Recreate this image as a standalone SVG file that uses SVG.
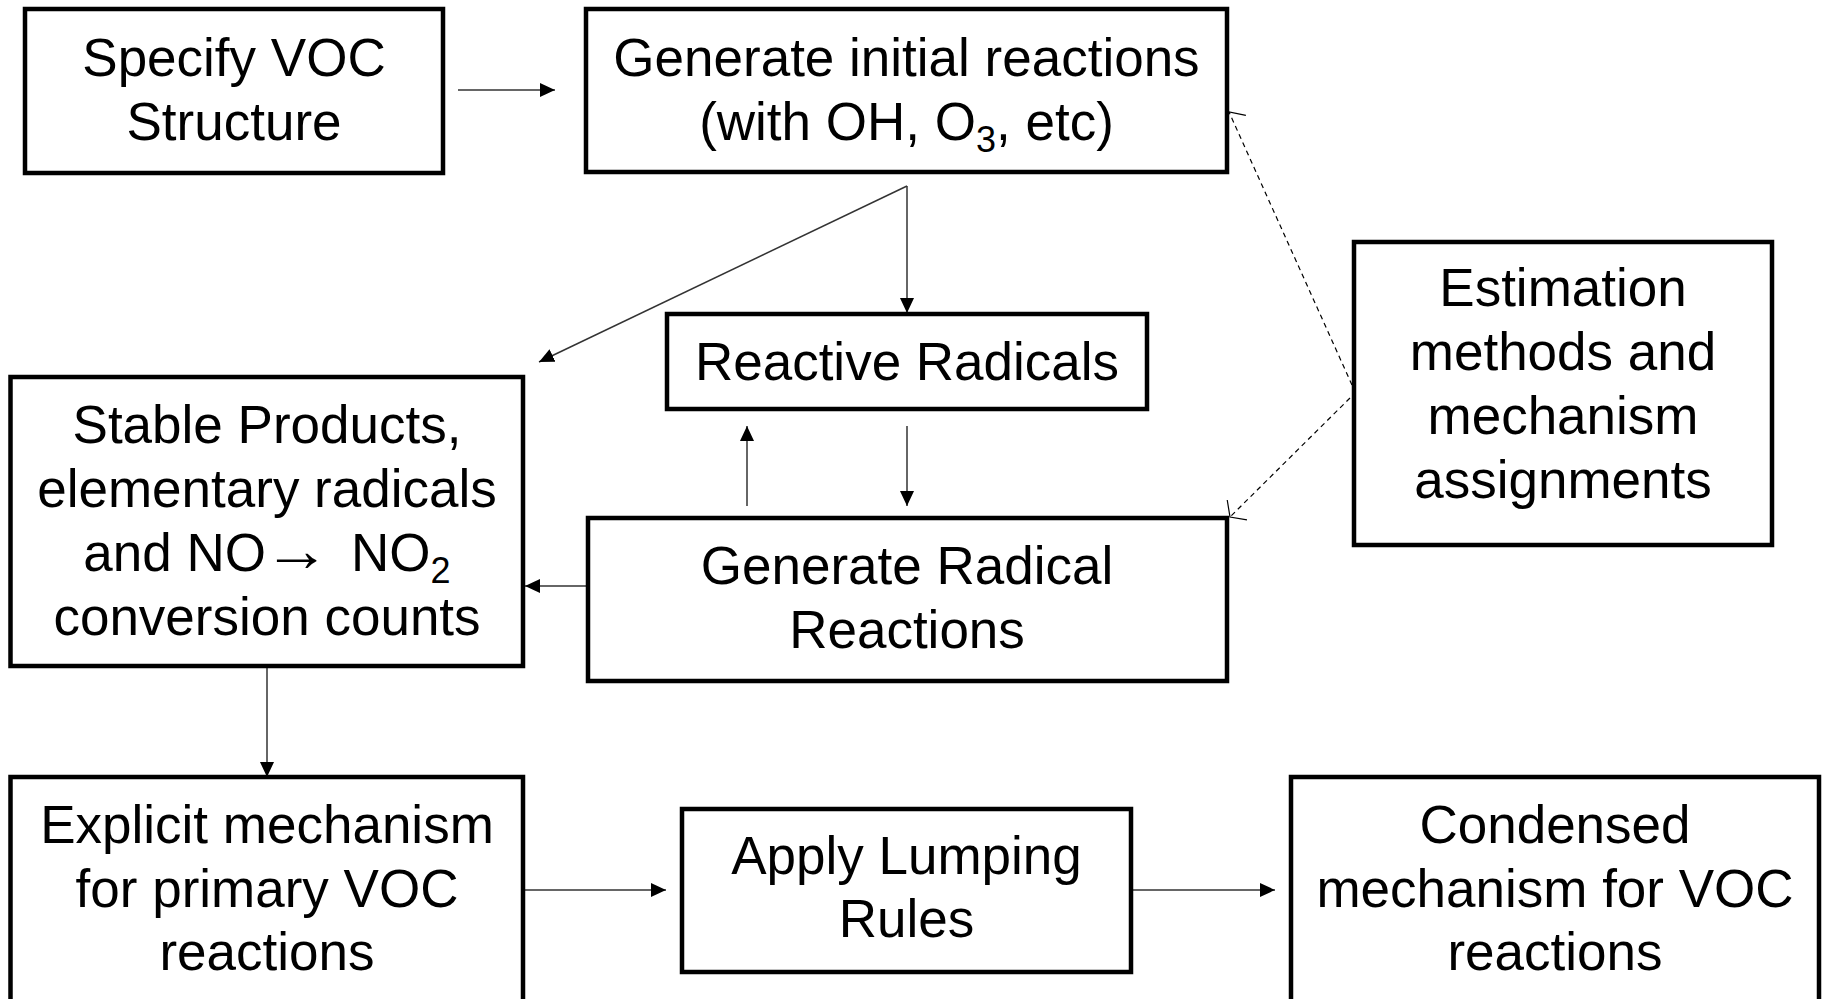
<svg xmlns="http://www.w3.org/2000/svg" width="1823" height="999" viewBox="0 0 1823 999">
<style>
  .box { fill: #fff; stroke: #000; stroke-width: 4.5; }
  .lbl { font-family: "Liberation Sans", Arial, sans-serif; font-size: 53px; fill: #000; text-anchor: middle; }
  .sub { font-size: 36px; }
  .conn { fill: none; stroke: #333; stroke-width: 1.5; }
  .dash { fill: none; stroke: #000; stroke-width: 1.2; stroke-dasharray: 5 4; }
</style>
<defs>
  <marker id="ah" markerUnits="userSpaceOnUse" markerWidth="16" markerHeight="16" refX="15" refY="7" orient="auto" viewBox="0 0 16 14">
    <path d="M0,0 L15,7 L0,14 z" fill="#000"/>
  </marker>
  <marker id="oh" markerUnits="userSpaceOnUse" markerWidth="24" markerHeight="32" refX="12" refY="15" orient="auto" viewBox="0 0 24 30">
    <path d="M2,1 L12,15 L2,29" fill="none" stroke="#000" stroke-width="1.2"/>
  </marker>
</defs>
<rect width="1823" height="999" fill="#fff"/>

<g id="connectors">
  <line class="conn" x1="458" y1="90" x2="555" y2="90" marker-end="url(#ah)"/>
  <line class="conn" x1="907" y1="186" x2="907" y2="313" marker-end="url(#ah)"/>
  <line class="conn" x1="907" y1="186" x2="539" y2="362" marker-end="url(#ah)"/>
  <line class="conn" x1="907" y1="426" x2="907" y2="506" marker-end="url(#ah)"/>
  <line class="conn" x1="747" y1="506" x2="747" y2="426" marker-end="url(#ah)"/>
  <line class="conn" x1="588" y1="586" x2="525" y2="586" marker-end="url(#ah)"/>
  <line class="conn" x1="267" y1="666" x2="267" y2="777" marker-end="url(#ah)"/>
  <line class="conn" x1="523" y1="890" x2="666" y2="890" marker-end="url(#ah)"/>
  <line class="conn" x1="1131" y1="890" x2="1275" y2="890" marker-end="url(#ah)"/>
  <line class="dash" x1="1352" y1="385" x2="1229" y2="112" marker-end="url(#oh)"/>
  <line class="dash" x1="1350" y1="398" x2="1230" y2="517" marker-end="url(#oh)"/>
</g>

<g id="specify">
  <rect class="box" x="25" y="9" width="418" height="164"/>
  <text class="lbl" x="234" y="76">Specify VOC</text>
  <text class="lbl" x="234" y="140">Structure</text>
</g>

<g id="initial">
  <rect class="box" x="586" y="9" width="641" height="163"/>
  <text class="lbl" x="906.5" y="76">Generate initial reactions</text>
  <text class="lbl" x="906.5" y="140">(with OH, O<tspan class="sub" dy="12">3</tspan><tspan dy="-12">, etc)</tspan></text>
</g>

<g id="estimation">
  <rect class="box" x="1354" y="242" width="418" height="303"/>
  <text class="lbl" x="1563" y="306">Estimation</text>
  <text class="lbl" x="1563" y="370">methods and</text>
  <text class="lbl" x="1563" y="434">mechanism</text>
  <text class="lbl" x="1563" y="498">assignments</text>
</g>

<g id="reactive">
  <rect class="box" x="667" y="314" width="480" height="95"/>
  <text class="lbl" x="907" y="380">Reactive Radicals</text>
</g>

<g id="stable">
  <rect class="box" x="10.5" y="377" width="512.5" height="289"/>
  <text class="lbl" x="267" y="443">Stable Products,</text>
  <text class="lbl" x="267" y="507">elementary radicals</text>
  <text class="lbl" x="266" y="571" style="text-anchor:end">and NO</text>
  <text class="lbl" transform="translate(297,571) scale(1.26,1.15)" x="0" y="0">→</text>
  <text class="lbl" x="351" y="571" style="text-anchor:start">NO<tspan class="sub" dy="12">2</tspan></text>
  <text class="lbl" x="267" y="635">conversion counts</text>
</g>

<g id="genradical">
  <rect class="box" x="588" y="518" width="639" height="163"/>
  <text class="lbl" x="907" y="584">Generate Radical</text>
  <text class="lbl" x="907" y="648">Reactions</text>
</g>

<g id="explicit">
  <rect class="box" x="10.5" y="777" width="512.5" height="240"/>
  <text class="lbl" x="267" y="843">Explicit mechanism</text>
  <text class="lbl" x="267" y="907">for primary VOC</text>
  <text class="lbl" x="267" y="970">reactions</text>
</g>

<g id="lumping">
  <rect class="box" x="682" y="809" width="449" height="163"/>
  <text class="lbl" x="906.5" y="874">Apply Lumping</text>
  <text class="lbl" x="906.5" y="937">Rules</text>
</g>

<g id="condensed">
  <rect class="box" x="1291" y="777" width="528" height="240"/>
  <text class="lbl" x="1555" y="843">Condensed</text>
  <text class="lbl" x="1555" y="907">mechanism for VOC</text>
  <text class="lbl" x="1555" y="970">reactions</text>
</g>
</svg>
